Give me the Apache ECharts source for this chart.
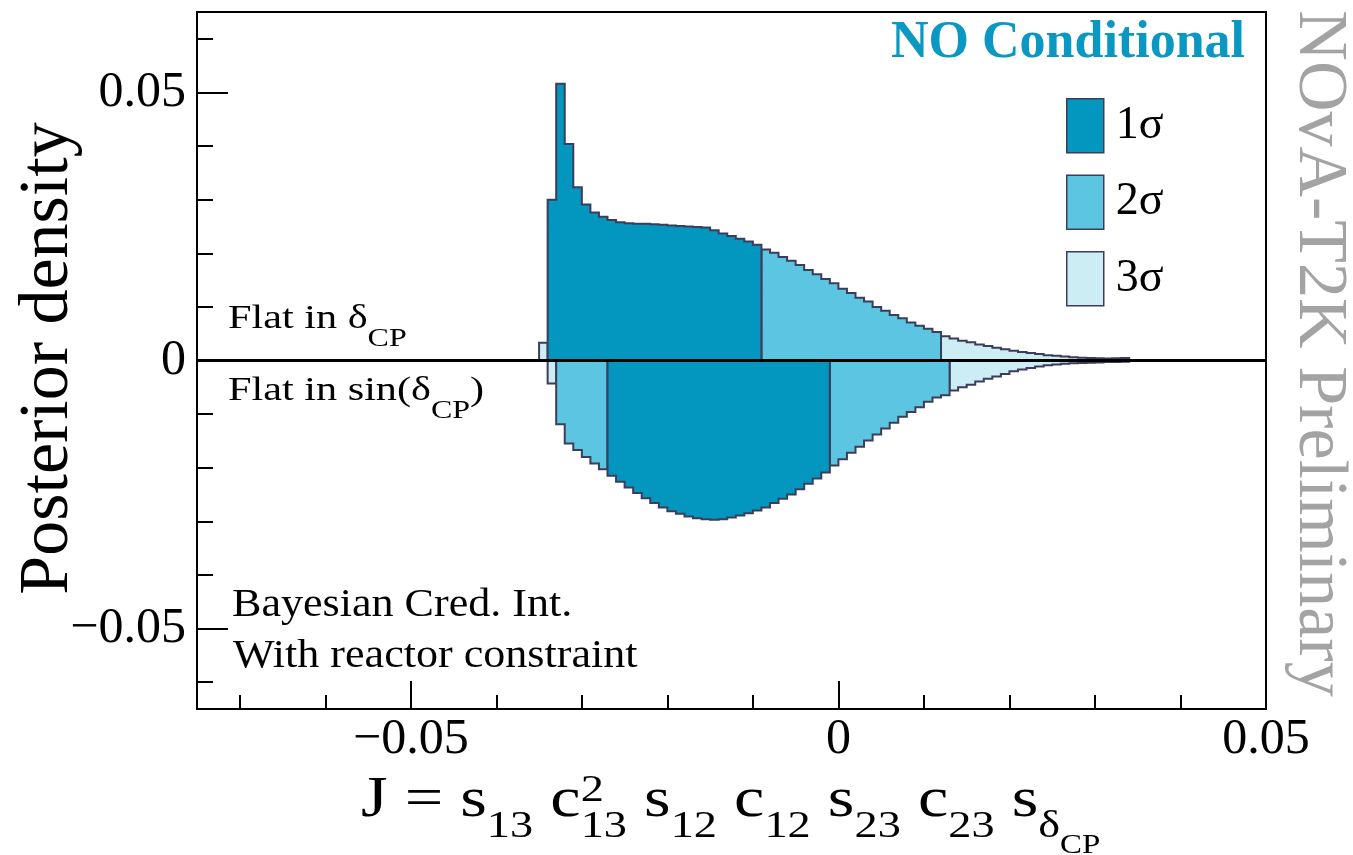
<!DOCTYPE html>
<html><head><meta charset="utf-8">
<script src="https://cdn.jsdelivr.net/npm/echarts@6/dist/echarts.min.js"></script>
<style>html,body{margin:0;padding:0;background:#fff}#c{width:1353px;height:855px}</style>
</head><body><div id="c"></div>
<script>
// ---------------- data ----------------
const binWidth = 0.001;
// Upper panel: "Flat in δCP" posterior density (units of 1e-3), bins from -0.035
const flatDeltaStart = -0.035;
const flatDeltaDensity = [
  3.3, 30.0, 51.6, 40.4, 32.3, 29.1, 27.6, 26.8, 26.2, 25.8,
  25.6, 25.5, 25.5, 25.4, 25.3, 25.2, 25.1, 25.0, 24.9, 24.8,
  24.3, 23.7, 23.2, 22.7, 22.2, 21.6, 20.7, 20.1, 19.3, 18.6,
  17.8, 16.9, 16.1, 15.2, 14.4, 13.4, 12.6, 11.7, 11.0, 10.0,
  9.3, 8.5, 7.9, 7.1, 6.5, 5.9, 5.3, 4.5, 4.1, 3.7,
  3.4, 3.0, 2.7, 2.4, 2.1, 1.8, 1.6, 1.4, 1.2, 1.0,
  0.9, 0.75, 0.6, 0.5, 0.45, 0.4, 0.35, 0.4, 0.45
];
// region starts [x, credible level]
const flatDeltaRegions = [[-0.035, 3], [-0.034, 1], [-0.009, 2], [0.012, 3]];

// Lower panel: "Flat in sin(δCP)" posterior density (units of 1e-3, drawn downward), bins from -0.034
const flatSinStart = -0.034;
const flatSinDensity = [
  4.3, 11.9, 15.5, 16.7, 18.0, 19.2, 20.3, 21.5, 22.6, 23.7,
  24.7, 25.7, 26.6, 27.4, 28.1, 28.6, 29.1, 29.4, 29.6, 29.7,
  29.6, 29.3, 28.9, 28.5, 28.0, 27.4, 26.6, 25.8, 25.0, 24.0,
  23.0, 22.0, 20.9, 19.6, 18.4, 17.2, 16.1, 14.9, 13.8, 12.7,
  11.6, 10.5, 9.6, 8.7, 7.7, 6.9, 6.5, 5.6, 5.0, 4.5,
  3.9, 3.4, 3.0, 2.5, 2.0, 1.7, 1.4, 1.1, 0.9, 0.75,
  0.6, 0.5, 0.45, 0.4, 0.35, 0.3, 0.3, 0.25
];
const flatSinRegions = [[-0.034, 3], [-0.033, 2], [-0.027, 1], [-0.001, 2], [0.013, 3]];

const xMin = -0.075, xMax = 0.05, yMin = -0.065, yMax = 0.065;
const xMajorTicks = [-0.05, 0, 0.05];
const xMinorTicks = [-0.07, -0.06, -0.04, -0.03, -0.02, -0.01, 0.01, 0.02, 0.03, 0.04];
const yMajorTicks = [-0.05, 0, 0.05];
const yMinorTicks = [-0.06, -0.04, -0.03, -0.02, -0.01, 0.01, 0.02, 0.03, 0.04, 0.06];
const levelNames = ['1σ', '2σ', '3σ'];
const levelColors = ['#0396be', '#5bc5e2', '#cdedf4'];
const outlineColor = '#3c3d5a';

// ---------------- build ----------------
const panels = [
  {start: flatDeltaStart, values: flatDeltaDensity, sign: 1, regions: flatDeltaRegions},
  {start: flatSinStart, values: flatSinDensity, sign: -1, regions: flatSinRegions}
];
const levelItems = [[], [], []];
panels.forEach((P, p) => {
  const end = P.start + P.values.length * binWidth;
  P.regions.forEach((r, k) => {
    const xe = k + 1 < P.regions.length ? P.regions[k + 1][0] : end;
    levelItems[r[1] - 1].push([r[0], xe, p]);
  });
});

function makeRender(color) {
  return function (params, api) {
    const xs = api.value(0), xe = api.value(1), p = api.value(2);
    const P = panels[p];
    const i0 = Math.round((xs - P.start) / binWidth), i1 = Math.round((xe - P.start) / binWidth);
    const pts = [api.coord([xs, 0])];
    for (let i = i0; i < i1; i++) {
      const lo = P.start + i * binWidth;
      const v = P.sign * P.values[i] * 1e-3;
      pts.push(api.coord([lo, v]), api.coord([lo + binWidth, v]));
    }
    pts.push(api.coord([xe, 0]));
    return {type: 'polygon', shape: {points: pts},
      style: {fill: color, stroke: outlineColor, lineWidth: 2, lineJoin: 'miter'}};
  };
}

const series = [];
[2, 1, 0].forEach(k => {
  series.push({
    type: 'custom', name: levelNames[k], coordinateSystem: 'cartesian2d',
    data: levelItems[k], encode: {x: [0, 1], y: 2},
    renderItem: makeRender(levelColors[k]),
    itemStyle: {color: levelColors[k], borderColor: outlineColor, borderWidth: 1.5},
    silent: true, z: 2
  });
});
series.push({
  type: 'line', name: 'zero', data: [[xMin, 0], [xMax, 0]], symbol: 'none',
  lineStyle: {color: '#000', width: 3}, silent: true, z: 5
});

// text measuring for math-like labels
const mctx = document.createElement('canvas').getContext('2d');
const SERIF = '"Liberation Serif", "Times New Roman", serif';
function tw(t, size, weight) {
  mctx.font = (weight || 'normal') + ' ' + size + 'px ' + SERIF;
  return mctx.measureText(t).width;
}
const K = 0.3375; // baseline offset from 'middle'
function mathGroup(pieces, x, baseline, scaleX) {
  let cx = 0;
  const children = [];
  pieces.forEach(pc => {
    const d = pc.d || 0;
    children.push({
      type: 'text', x: cx, y: baseline + d - K * pc.s,
      style: {text: pc.t, fontSize: pc.s, fontFamily: SERIF, fill: '#000',
        align: 'left', verticalAlign: 'middle'}
    });
    if (pc.adv !== false) cx += tw(pc.t, pc.s);
  });
  return {type: 'group', x: x, y: 0, scaleX: scaleX, scaleY: 1, children: children, silent: true};
}
function plainText(t, x, baseline, size, scaleX) {
  return {type: 'text', x: x, y: baseline - K * size, scaleX: scaleX || 1, silent: true,
    style: {text: t, fontSize: size, fontFamily: SERIF, fill: '#000', align: 'left', verticalAlign: 'middle'}};
}

const F = 56, f = 38, f2 = 27, sd = 20;
const xTitle = mathGroup([
  {t: 'J = s', s: F}, {t: '13', s: f, d: sd},
  {t: ' c', s: F}, {t: '2', s: f, d: -16, adv: false}, {t: '13', s: f, d: sd},
  {t: ' s', s: F}, {t: '12', s: f, d: sd},
  {t: ' c', s: F}, {t: '12', s: f, d: sd},
  {t: ' s', s: F}, {t: '23', s: f, d: sd},
  {t: ' c', s: F}, {t: '23', s: f, d: sd},
  {t: ' s', s: F}, {t: 'δ', s: f, d: sd}, {t: 'CP', s: f2, d: sd + 15}
], 361, 820, 1.22);

const flat1 = mathGroup([{t: 'Flat in δ', s: 33}, {t: 'CP', s: 25, d: 18}], 228, 330, 1.28);
const flat2 = mathGroup([{t: 'Flat in sin(δ', s: 33}, {t: 'CP', s: 25, d: 18}, {t: ')', s: 33}], 228, 402, 1.28);

const minusFmt = v => (Math.abs(v) < 1e-12 ? '0' : (v < 0 ? '\u2212' : '') + String(+Math.abs(v).toFixed(4)));

const chart = echarts.init(document.getElementById('c'), null, {renderer: 'canvas'});
chart.setOption({
  animation: false,
  backgroundColor: '#fff',
  grid: {left: 197, right: 87, top: 12, bottom: 146, show: true, borderColor: '#000', borderWidth: 2, backgroundColor: 'transparent'},
  xAxis: [
    {type: 'value', min: xMin, max: xMax, position: 'bottom',
      axisLine: {show: false, onZero: false}, splitLine: {show: false},
      axisTick: {show: true, inside: true, length: 28, customValues: xMajorTicks, lineStyle: {color: '#000', width: 2}},
      axisLabel: {show: true, customValues: xMajorTicks, margin: 6, formatter: minusFmt,
        fontSize: 50, fontFamily: SERIF, color: '#000'}},
    {type: 'value', min: xMin, max: xMax, position: 'bottom', gridIndex: 0,
      axisLine: {show: false, onZero: false}, splitLine: {show: false},
      axisTick: {show: true, inside: true, length: 14, customValues: xMinorTicks, lineStyle: {color: '#000', width: 2}},
      axisLabel: {show: false}}
  ],
  yAxis: [
    {type: 'value', min: yMin, max: yMax, position: 'left',
      axisLine: {show: false, onZero: false}, splitLine: {show: false},
      axisTick: {show: true, inside: true, length: 31, customValues: yMajorTicks, lineStyle: {color: '#000', width: 2}},
      axisLabel: {show: true, customValues: yMajorTicks, margin: 11, formatter: minusFmt,
        fontSize: 50, fontFamily: SERIF, color: '#000'}},
    {type: 'value', min: yMin, max: yMax, position: 'left', gridIndex: 0,
      axisLine: {show: false, onZero: false}, splitLine: {show: false},
      axisTick: {show: true, inside: true, length: 16, customValues: yMinorTicks, lineStyle: {color: '#000', width: 2}},
      axisLabel: {show: false}}
  ],
  legend: {
    data: levelNames, orient: 'vertical', left: 1061, top: 93,
    itemWidth: 37, itemHeight: 54, itemGap: 21, icon: 'rect',
    itemStyle: {borderColor: outlineColor, borderWidth: 1.5},
    textStyle: {fontSize: 46, fontFamily: SERIF, color: '#000', padding: [0, 0, 0, 7]},
    selectedMode: false
  },
  series: series,
  graphic: [
    {type: 'text', x: 1245, y: 43.5, silent: true,
      style: {text: 'NO Conditional', fontSize: 52, fontWeight: 'bold', fontFamily: SERIF,
        fill: '#0a98c2', align: 'right', verticalAlign: 'middle'}},
    {type: 'text', x: 1318, y: 353.5, rotation: -Math.PI / 2, silent: true,
      style: {text: 'NOvA-T2K Preliminary', fontSize: 70, fontFamily: SERIF,
        fill: '#a3a3a3', align: 'center', verticalAlign: 'middle'}},
    {type: 'text', x: 48.5, y: 358.5, rotation: Math.PI / 2, silent: true,
      style: {text: 'Posterior density', fontSize: 70, fontFamily: SERIF,
        fill: '#000', align: 'center', verticalAlign: 'middle'}},
    plainText('Bayesian Cred. Int.', 232, 619, 39, 1.13),
    plainText('With reactor constraint', 233, 670, 39, 1.13),
    flat1, flat2, xTitle
  ]
});
</script>
</body></html>
